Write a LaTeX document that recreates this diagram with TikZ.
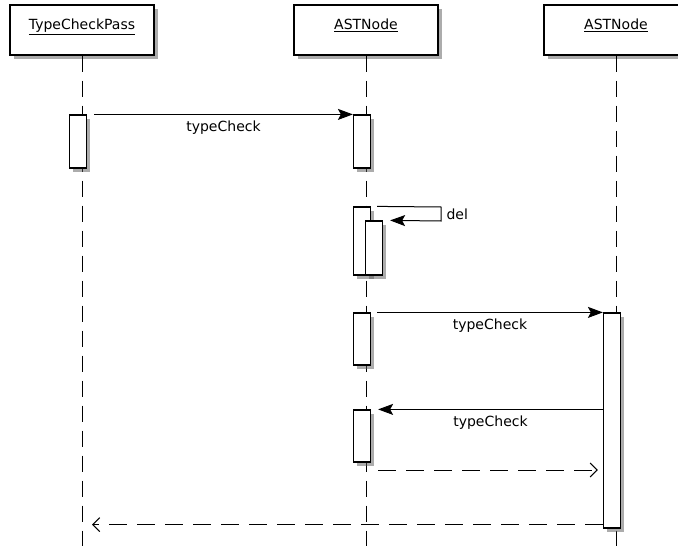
\documentclass[tikz,border=0pt]{standalone}
\usepackage{fontspec}
\setmainfont{DejaVu Sans}
\usetikzlibrary{arrows.meta,shadows}

\begin{document}
\begin{tikzpicture}[x=1pt, y=-1pt, line width=1pt, font=\fontsize{14}{16}\selectfont]
\tikzstyle{headbox}=[rectangle, draw=black, fill=white, line width=1.2pt, minimum width=144pt, minimum height=50pt, inner sep=0pt, drop shadow={shadow xshift=3.5pt, shadow yshift=-3.5pt, fill=black!65}]
\tikzstyle{headtext}=[inner sep=0pt, anchor=base]
\tikzstyle{actbar}=[rectangle, draw=black, fill=white, line width=1.2pt, minimum width=17pt, inner sep=0pt, drop shadow={shadow xshift=3.5pt, shadow yshift=-3.5pt, fill=black!65}]
\tikzstyle{lifeline}=[line width=1pt, dash pattern=on 16pt off 9pt]
\tikzstyle{callstyle}=[-{Stealth[length=15pt, width=11pt, inset=3pt]}]
\tikzstyle{retstyle}=[dash pattern=on 18pt off 10pt, -{Straight Barb[length=7pt, width=14pt]}]
\tikzstyle{msglabel}=[below, inner sep=6pt]

\useasboundingbox (0,0) rectangle (678,546);
\clip (0,0) rectangle (678,546);

\node[headbox] (H0) at (82,30) {};
\node[headtext] (T0) at (82,29.5) {\underline{TypeCheckPass}};
\node[headbox] (H1) at (366,30) {};
\node[headtext] (T1) at (366,29.5) {\underline{ASTNode}};
\node[headbox] (H2) at (616,30) {};
\node[headtext] (T2) at (616,29.5) {\underline{ASTNode}};
\coordinate (E0) at (82,546);
\coordinate (E1) at (366,546);
\coordinate (E2) at (616,546);
\draw[lifeline] (H0.south) -- (E0);
\draw[lifeline] (H1.south) -- (E1);
\draw[lifeline] (H2.south) -- (E2);

\node[actbar, minimum height=53pt] (A0x1) at (78,141.5) {};
\node[actbar, minimum height=53pt] (A1x1) at (362,141.5) {};
\node[actbar, minimum height=68pt] (A1x2) at (362,241) {};
\node[actbar, minimum height=54pt] (A1x3) at (374,248) {};
\node[actbar, minimum height=52pt] (A1x4) at (362,339) {};
\node[actbar, minimum height=215pt] (A2x4) at (612,420.5) {};
\node[actbar, minimum height=52pt] (A1x5) at (362,436) {};

\draw[callstyle] ([xshift=7pt]A0x1.north east) -- (A1x1.north west) node[msglabel, midway] {typeCheck};
\coordinate (D1) at (441,207);
\coordinate (D2) at (441,221);
\draw[callstyle] ([xshift=6pt]A1x2.north east) -- (D1) -- (D2) node[midway, right, inner sep=5pt] {del} -- ([xshift=7pt]A1x3.north east);
\draw[callstyle] ([xshift=6pt]A1x4.north east) -- (A2x4.north west) node[msglabel, midway] {typeCheck};
\draw[callstyle] (A1x5.north east -| A2x4.west) -- ([xshift=7pt]A1x5.north east) node[msglabel, midway] {typeCheck};
\coordinate (R1) at (378,470);
\draw[retstyle, shorten >=5pt] (R1) -- (R1 -| A2x4.west);
\coordinate (R2) at ([yshift=4pt]A2x4.south west);
\draw[retstyle, shorten >=10pt] (R2) -- (R2 -| E0);
\end{tikzpicture}
\end{document}
